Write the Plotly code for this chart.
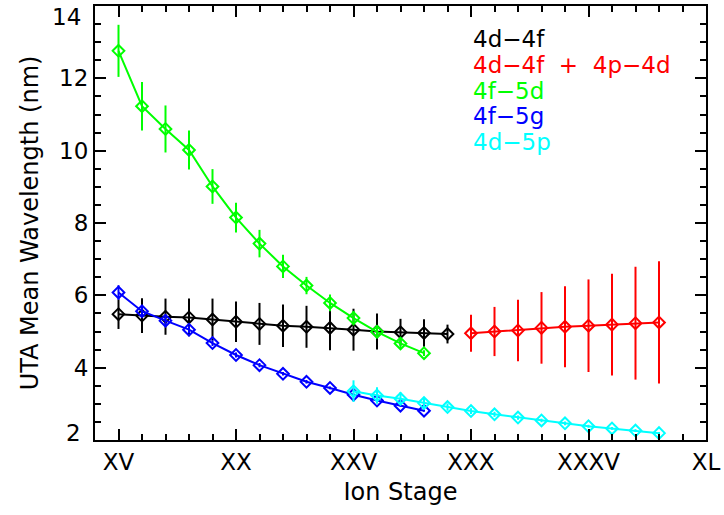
import plotly.graph_objects as go

# Ion stages (charge state + 1) for each transition array
stage_4d4f = [15, 16, 17, 18, 19, 20, 21, 22, 23, 24, 25, 26, 27, 28, 29]
mean_4d4f = [5.48, 5.44, 5.41, 5.39, 5.33, 5.27, 5.21, 5.16, 5.13, 5.10, 5.05, 5.00, 4.98, 4.96, 4.93]
err_4d4f = [0.41, 0.48, 0.50, 0.52, 0.58, 0.56, 0.58, 0.59, 0.58, 0.62, 0.58, 0.50, 0.37, 0.38, 0.26]

stage_4d4f_4p4d = [30, 31, 32, 33, 34, 35, 36, 37, 38]
mean_4d4f_4p4d = [4.95, 5.00, 5.03, 5.10, 5.13, 5.16, 5.19, 5.23, 5.25]
err_4d4f_4p4d = [0.51, 0.68, 0.85, 0.99, 1.12, 1.28, 1.41, 1.56, 1.69]

stage_4f5d = [15, 16, 17, 18, 19, 20, 21, 22, 23, 24, 25, 26, 27, 28]
mean_4f5d = [12.76, 11.23, 10.60, 10.02, 9.01, 8.15, 7.43, 6.80, 6.27, 5.79, 5.37, 4.99, 4.67, 4.40]
err_4f5d = [0.72, 0.67, 0.65, 0.54, 0.48, 0.41, 0.38, 0.32, 0.24, 0.23, 0.20, 0.18, 0.14, 0.08]

stage_4f5g = [15, 16, 17, 18, 19, 20, 21, 22, 23, 24, 25, 26, 27, 28]
mean_4f5g = [6.08, 5.56, 5.30, 5.05, 4.68, 4.35, 4.07, 3.83, 3.61, 3.44, 3.25, 3.09, 2.95, 2.81]
err_4f5g = [0.20, 0.16, 0.13, 0.10, 0.08, 0.07, 0.06, 0.05, 0.05, 0.04, 0.04, 0.04, 0.03, 0.03]

stage_4d5p = [25, 26, 27, 28, 29, 30, 31, 32, 33, 34, 35, 36, 37, 38]
mean_4d5p = [3.35, 3.23, 3.14, 3.02, 2.91, 2.80, 2.71, 2.62, 2.54, 2.46, 2.38, 2.32, 2.26, 2.19]
err_4d5p = [0.30, 0.23, 0.18, 0.14, 0.10, 0.08, 0.07, 0.06, 0.05, 0.05, 0.04, 0.04, 0.04, 0.03]

roman_vals = [15, 20, 25, 30, 35, 40]
roman_text = ["XV", "XX", "XXV", "XXX", "XXXV", "XL"]
y_ticks = [2, 4, 6, 8, 10, 12, 14]

labels = ["4d\u22124f", "4d\u22124f  +  4p\u22124d", "4f\u22125d", "4f\u22125g", "4d\u22125p"]
colors = ["#000000", "#ff0000", "#00ff00", "#0000ff", "#00ffff"]

FONT = "DejaVu Sans"
TICK_SIZE = 23
TITLE_SIZE = 24

# plot-area geometry in pixels (used for placing paper-referenced text)
L, R, T, B = 95, 15, 4, 75
W, H = 724, 515
PW, PH = W - L - R, H - T - B

series = [
    (stage_4d4f, mean_4d4f, err_4d4f, colors[0]),
    (stage_4d4f_4p4d, mean_4d4f_4p4d, err_4d4f_4p4d, colors[1]),
    (stage_4f5g, mean_4f5g, err_4f5g, colors[3]),
    (stage_4f5d, mean_4f5d, err_4f5d, colors[2]),
    (stage_4d5p, mean_4d5p, err_4d5p, colors[4]),
]

fig = go.Figure()
for xs, ys, es, c in series:
    fig.add_trace(go.Scatter(
        x=xs, y=ys, mode="lines+markers",
        line=dict(color=c, width=2),
        marker=dict(symbol="diamond-open", size=9, color=c, line=dict(width=2, color=c)),
        error_y=dict(type="data", array=es, visible=True, color=c, thickness=2, width=0),
        showlegend=False,
    ))

# Text key in the upper right corner
key_y = [37, 63, 89, 115, 141]
for txt, c, yy in zip(labels, colors, key_y):
    fig.add_annotation(
        x=(473 - L) / PW, y=1 - (yy - T) / PH, xref="paper", yref="paper",
        text=txt, showarrow=False, xanchor="left", yanchor="middle",
        font=dict(family=FONT, size=TICK_SIZE, color=c),
    )

# End labels of the y axis are nudged inward so they stay inside the frame height
y_ticktext = [str(v) for v in y_ticks]
y_ticktext[0] = ""
y_ticktext[-1] = ""
for txt, yy in ((str(y_ticks[0]), 433), (str(y_ticks[-1]), 15)):
    fig.add_annotation(
        x=(83 - L) / PW, y=1 - (yy - T) / PH, xref="paper", yref="paper",
        text=txt, showarrow=False, xanchor="right", yanchor="middle",
        font=dict(family=FONT, size=TICK_SIZE, color="black"),
    )

axis_common = dict(
    showline=True, linecolor="black", linewidth=2, mirror="ticks",
    ticks="inside", tickcolor="black", tickwidth=2,
    showgrid=False, zeroline=False,
    tickfont=dict(family=FONT, size=TICK_SIZE, color="black"),
)

fig.update_xaxes(
    range=[14, 40], tickmode="array", tickvals=roman_vals, ticktext=roman_text,
    ticklen=11, minor=dict(dtick=1, ticks="inside", ticklen=6, tickcolor="black", tickwidth=2),
    title=dict(text="Ion Stage", font=dict(family=FONT, size=TITLE_SIZE, color="black"), standoff=10),
    **axis_common,
)
fig.update_yaxes(
    range=[2, 14], tickmode="array", tickvals=y_ticks, ticktext=y_ticktext,
    ticklen=11, minor=dict(dtick=0.5, ticks="inside", ticklen=6, tickcolor="black", tickwidth=2),
    title=dict(text="UTA Mean Wavelength (nm)", font=dict(family=FONT, size=TITLE_SIZE, color="black"), standoff=14),
    **axis_common,
)

fig.update_layout(
    width=W, height=H,
    margin=dict(l=L, r=R, t=T, b=B),
    paper_bgcolor="white", plot_bgcolor="white",
)

fig.write_html("out.html")
